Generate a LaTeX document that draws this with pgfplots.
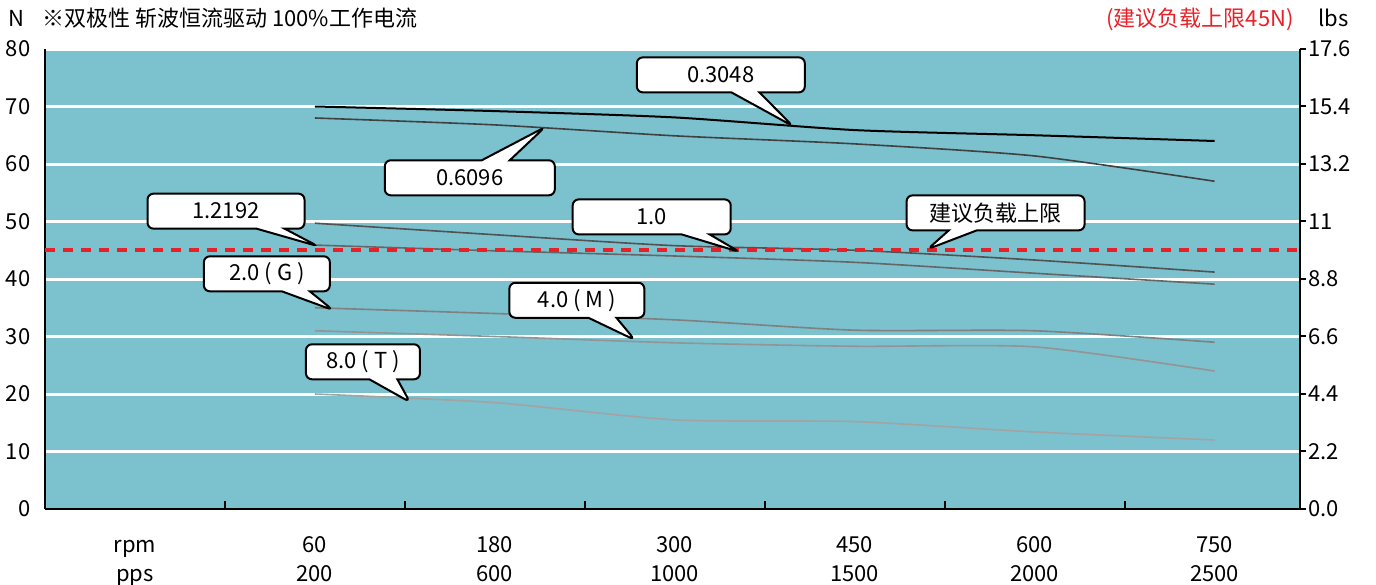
\documentclass[border=0pt]{standalone}
\usepackage{fontspec}
\setmainfont{Noto Sans CJK SC}
\usepackage{pgfplots}
\pgfplotsset{compat=1.18}
\usetikzlibrary{shapes.callouts}

\definecolor{bg}{RGB}{123,193,206}
\definecolor{redl}{RGB}{232,32,40}

\begin{document}
\begin{tikzpicture}[font=\fontsize{11bp}{14.5bp}\selectfont]
\begin{axis}[name=ax, scale only axis, width=627.5bp, height=230bp,
  xmin=-0.5, xmax=6.475, ymin=0, ymax=80, clip=false,
  axis x line*=bottom, axis y line*=left,
  axis line style={line width=1bp, black, -},
  axis background/.style={fill=bg},
  ytick={0,10,...,80}, ymajorgrids, grid style={white, line width=1.5bp},
  major tick length=0pt, minor tick length=4bp, tick align=inside,
  tick style={black, line width=1bp},
  xtick={0,...,6},
  xticklabels={{\strut rpm\\pps},{\strut 60\\200},{\strut 180\\600},{\strut 300\\1000},{\strut 450\\1500},{\strut 600\\2000},{\strut 750\\2500}},
  minor xtick={0.5,1.5,...,5.5},
  x tick label style={align=center, yshift=-8bp},
  y tick label style={/pgf/number format/assume math mode=true, xshift=-3.8bp},
  /pgf/number format/assume math mode=true,
]
\addplot[black, line width=1bp, smooth, tension=0.4] coordinates {(1,70) (2,69.2) (3,68.1) (4,65.9) (5,65.0) (6,64.0)};
\addplot[black!75, line width=0.8bp, smooth, tension=0.4] coordinates {(1,68) (2,66.8) (3,64.9) (4,63.5) (5,61.4) (6,57)};
\addplot[black!68, line width=0.8bp, smooth, tension=0.4] coordinates {(1,49.7) (2,47.7) (3,45.8) (4,45.0) (5,43.3) (6,41.2)};
\addplot[black!60, line width=0.8bp, smooth, tension=0.4] coordinates {(1,45.9) (2,44.9) (3,44.0) (4,42.9) (5,41.0) (6,39.1)};
\addplot[black!50, line width=0.8bp, smooth, tension=0.4] coordinates {(1,35) (2,34.0) (3,32.9) (4,31.1) (5,31.0) (6,29)};
\addplot[black!42, line width=0.8bp, smooth, tension=0.4] coordinates {(1,31) (2,30.0) (3,28.9) (4,28.3) (5,28.2) (6,24)};
\addplot[black!36, line width=0.8bp, smooth, tension=0.4] coordinates {(1,20) (2,18.5) (3,15.5) (4,15.2) (5,13.4) (6,12)};
\addplot[redl, line width=2bp, dash pattern=on 5bp off 4bp] coordinates {(-0.5,45) (6.475,45)};

\tikzset{co/.style={rectangle callout, draw=black, fill=white, line width=1bp, rounded corners=3bp,
  callout pointer width=14bp, minimum height=17.5bp, inner sep=0pt}}
\node[co, minimum width=84bp, callout absolute pointer={(axis cs:3.656,66.6)}] at (axis cs:3.256,75.5) {0.3048};
\node[co, minimum width=85bp, callout absolute pointer={(axis cs:2.278,66.4)}] at (axis cs:1.861,57.6) {0.6096};
\node[co, minimum width=78.5bp, callout absolute pointer={(axis cs:1.017,45.7)}] at (axis cs:0.506,51.8) {1.2192};
\node[co, minimum width=79bp, callout absolute pointer={(axis cs:3.361,44.7)}] at (axis cs:2.872,50.8) {1.0};
\node[co, minimum width=89bp, callout absolute pointer={(axis cs:4.406,45.2)}] at (axis cs:4.783,51.5) {建议负载上限};
\node[co, minimum width=63bp, callout absolute pointer={(axis cs:1.10,34.6)}] at (axis cs:0.733,40.9) {2.0 ( G )};
\node[co, minimum width=67.5bp, callout absolute pointer={(axis cs:2.778,29.4)}] at (axis cs:2.456,36.3) {4.0 ( M )};
\node[co, minimum width=57bp, callout absolute pointer={(axis cs:1.528,18.6)}] at (axis cs:1.267,25.6) {8.0 ( T )};
\end{axis}
\begin{axis}[scale only axis, width=627.5bp, height=230bp,
  xmin=-0.5, xmax=6.475, ymin=0, ymax=17.6,
  axis x line=none, axis y line*=right,
  axis line style={line width=1bp, black, -},
  ytick={0,2.2,4.4,6.6,8.8,11,13.2,15.4,17.6},
  yticklabels={0.0,2.2,4.4,6.6,8.8,11,13.2,15.4,17.6},
  tick align=outside, major tick length=3bp,
  tick style={black, line width=1bp},
  y tick label style={xshift=-2.5bp},
]
\addplot[draw=none] coordinates {(0,0)};
\end{axis}
\node[anchor=base west, inner sep=0pt, xshift=-18.5bp, yshift=11.25bp] at (ax.north west) {N};
\node[anchor=base west, inner sep=0pt, xshift=-1.5bp, yshift=11.25bp] at (ax.north west) {※双极性 斩波恒流驱动 100\%工作电流};
\node[anchor=base east, inner sep=0pt, xshift=-3bp, yshift=11.25bp, text=redl] at (ax.north east) {(建议负载上限45N)};
\node[anchor=base west, inner sep=0pt, xshift=9bp, yshift=11.25bp] at (ax.north east) {lbs};
\path (ax.south west) ++(-22.5bp,-38bp) coordinate (bl);
\path (ax.north east) ++(38bp,24.5bp) coordinate (tr);
\pgfresetboundingbox
\path (bl) rectangle (tr);
\end{tikzpicture}
\end{document}
